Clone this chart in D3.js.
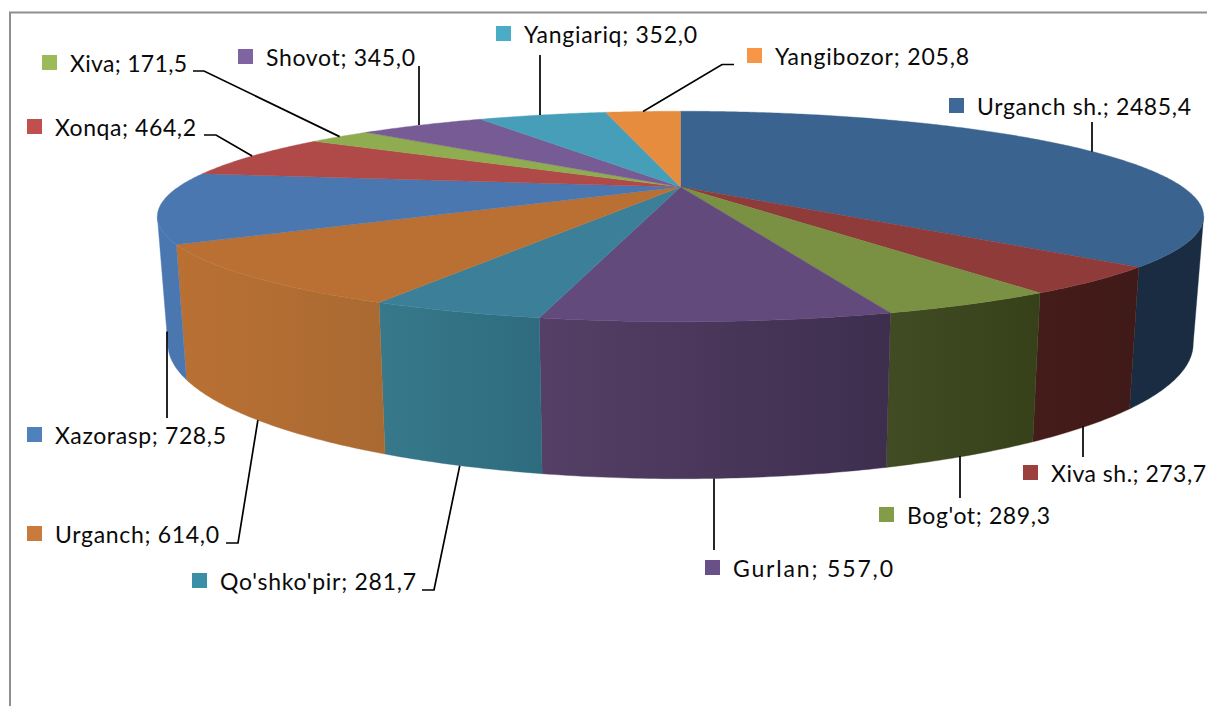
<!DOCTYPE html>
<html>
<head>
<meta charset="utf-8">
<script src="https://cdn.jsdelivr.net/npm/d3@7"></script>
<style>
html,body{margin:0;padding:0;background:#fff;overflow:hidden}
text{font-family:Lato,"Open Sans",sans-serif;font-size:23px;fill:#0a0a0a}
</style>
</head>
<body>
<svg id="chart" width="1207" height="706" xmlns="http://www.w3.org/2000/svg"></svg>
<script>
// ---- data ----
const categories = ["Urganch sh.","Xiva sh.","Bog'ot","Gurlan","Qo'shko'pir","Urganch","Xazorasp","Xonqa","Xiva","Shovot","Yangiariq","Yangibozor"];
const values = [2485.4,273.7,289.3,557.0,281.7,614.0,728.5,464.2,171.5,345.0,352.0,205.8];

// ---- colours ----
const swatchColors = ["#3F6797","#9C403E","#829C48","#6A5089","#3A8FA6","#C87B3A","#4F81BD","#C0504D","#9BBB59","#8064A2","#4BACC6","#F79646"];
const topColors = ["#3A638F","#8F3B39","#7A9042","#634A7C","#3B8098","#BA7033","#4A77B0","#AF4A48","#8FAC50","#775B95","#479EB8","#E58C3E"];
const sideStart = ["#192C42","#441C1A","#414C24","#553F66","#37798B","#BA7033","#4A77B0","#AF4A48","#8FAC50","#775B95","#479EB8","#E58C3E"];
const sideEnd   = ["#192C42","#401A18","#364019","#3D2E4E","#2E6B7E","#A96A32","#4A77B0","#AF4A48","#8FAC50","#775B95","#479EB8","#E58C3E"];

// ---- label layout: swatch corner, text width, then leader bend points (from label to pie) ----
const labelSwatch = [[949,98],[1023,465],[879,507],[705,560],[192,573],[27,526],[27,427],[27,119],[42,55],[238,49],[496,26],[747,48]];
const labelWidths = [214,155,143,160,196,164,171,141,117,149,173,194];
const leaderBends = [
  [[1092,122]],
  [[1083,457]],
  [[960,498]],
  [[714,550]],
  [[422,590],[434,590]],
  [[226,543],[238,543]],
  [[167,418]],
  [[204,135],[216,135]],
  [[193,71],[204,71]],
  [[419,66]],
  [[540,55]],
  [[734,64.5],[722,64.5]]
];
const leaderOnBase = [false,true,true,true,true,true,true,false,false,false,false,false];

// ---- projection of the tilted disc ----
const apex = {x:680.5, y:187};
const persp = 0.28, halfX = 502.2, halfY = 97;
const baseScaleX = 0.98, baseScaleY = 1.282, baseY = 306;

function rimTop(theta){
  const u = Math.sin(theta), v = -Math.cos(theta), d = 1 - persp*v;
  return [apex.x + halfX*u/d, apex.y + halfY*v/d];
}
function rimBase(theta){
  const p = rimTop(theta);
  return [apex.x + baseScaleX*(p[0]-apex.x), baseY + baseScaleY*(p[1]-apex.y)];
}

const svg = d3.select("#chart");
const defs = svg.append("defs");
const line = d3.line();

const arcs = d3.pie().sort(null).startAngle(0).endAngle(2*Math.PI)(values);

const visFrom = Math.acos(-persp), visTo = 2*Math.PI - visFrom;
function sample(a,b){
  const n = Math.max(2, Math.ceil((b-a)/0.01));
  return d3.range(n+1).map(i => a + (b-a)*i/n);
}

// frame
svg.append("path").attr("d", line([[10,706],[10,12.5],[1207,12.5]]))
  .attr("fill","none").attr("stroke","#8f8f8f").attr("stroke-width",2);

// outer side wall
arcs.forEach((d,i) => {
  const a = Math.max(d.startAngle, visFrom), b = Math.min(d.endAngle, visTo);
  if (b <= a) return;
  const th = sample(a,b);
  const up = th.map(rimTop), down = th.map(rimBase).reverse();
  const x0 = d3.min(up.concat(down), p => p[0]), x1 = d3.max(up.concat(down), p => p[0]);
  const g = defs.append("linearGradient").attr("id","side"+i)
    .attr("gradientUnits","userSpaceOnUse").attr("x1",x0).attr("x2",x1).attr("y1",0).attr("y2",0);
  g.append("stop").attr("offset",0).attr("stop-color",sideStart[i]);
  g.append("stop").attr("offset",1).attr("stop-color",sideEnd[i]);
  svg.append("path").attr("d", line(up.concat(down))+"Z")
    .attr("fill",`url(#side${i})`).attr("stroke",`url(#side${i})`).attr("stroke-width",0.4);
});

// top face
arcs.forEach((d,i) => {
  const pts = [[apex.x,apex.y]].concat(sample(d.startAngle,d.endAngle).map(rimTop));
  svg.append("path").attr("d", line(pts)+"Z")
    .attr("fill",topColors[i]).attr("stroke",topColors[i]).attr("stroke-width",0.4);
});

// leaders: straight ones stay vertical at the bend's x, ending at the rim height of the slice's mid-angle
arcs.forEach((d,i) => {
  const mid = (d.startAngle+d.endAngle)/2;
  const rim = leaderOnBase[i] ? rimBase(mid) : rimTop(mid);
  const bends = leaderBends[i];
  const anchor = bends.length === 1 ? [bends[0][0], rim[1]] : rim;
  svg.append("path").attr("d", line(bends.concat([anchor])))
    .attr("fill","none").attr("stroke","#000").attr("stroke-width",1.7);
});

// labels
const fmt = d3.format(".1f");
categories.forEach((c,i) => {
  const [sx,sy] = labelSwatch[i];
  svg.append("rect").attr("x",sx).attr("y",sy).attr("width",15).attr("height",15).attr("fill",swatchColors[i]);
  svg.append("text").attr("x",sx+28).attr("y",sy+16.5)
    .attr("textLength",labelWidths[i]).attr("lengthAdjust","spacing")
    .text(`${c}; ${fmt(values[i]).replace(".",",")}`);
});
</script>
</body>
</html>
